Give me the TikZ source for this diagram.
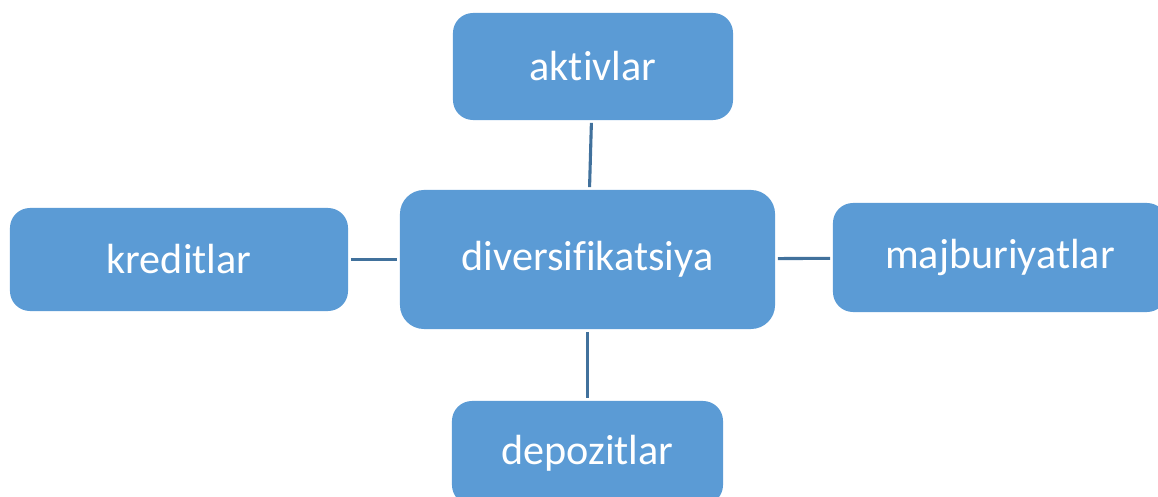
\documentclass[tikz,border=0pt]{standalone}
\usepackage{fontspec}
\setmainfont{Carlito}[RawFeature=-liga]
\definecolor{boxblue}{HTML}{5B9BD5}
\definecolor{lineblue}{HTML}{41719C}
\tikzset{
	box/.style={rectangle, rounded corners=0.5cm, fill=boxblue, text=white,
		font=\fontsize{30}{36}\selectfont, inner sep=0pt, outer sep=0.07cm},
	link/.style={draw=lineblue, line width=2.2pt}
}
\begin{document}
\begin{tikzpicture}[x=0.025cm,y=-0.025cm]
				\useasboundingbox (0,0) rectangle (1158,497);
				\node[box, minimum width=9.375cm, minimum height=3.475cm, rounded corners=0.6cm] (div) at (587.5,259.5) {diversifikatsiya};
				\node[box, minimum width=7cm, minimum height=2.675cm] (akt) at (593,66.5) {aktivlar};
				\node[box, minimum width=8.45cm, minimum height=2.575cm] (kred) at (179,259.5) {kreditlar};
				\node[box, minimum width=8.35cm, minimum height=2.725cm] (majb) at (1000,257.5) {majburiyatlar};
				\node[box, minimum width=6.775cm, minimum height=2.6cm] (depo) at (587.5,453) {depozitlar};
				\draw[link] (akt)--(div);
				\draw[link] (kred)--(div);
				\draw[link] (div)--(majb);
				\draw[link] (div)--(depo);
			\end{tikzpicture}
\end{document}
